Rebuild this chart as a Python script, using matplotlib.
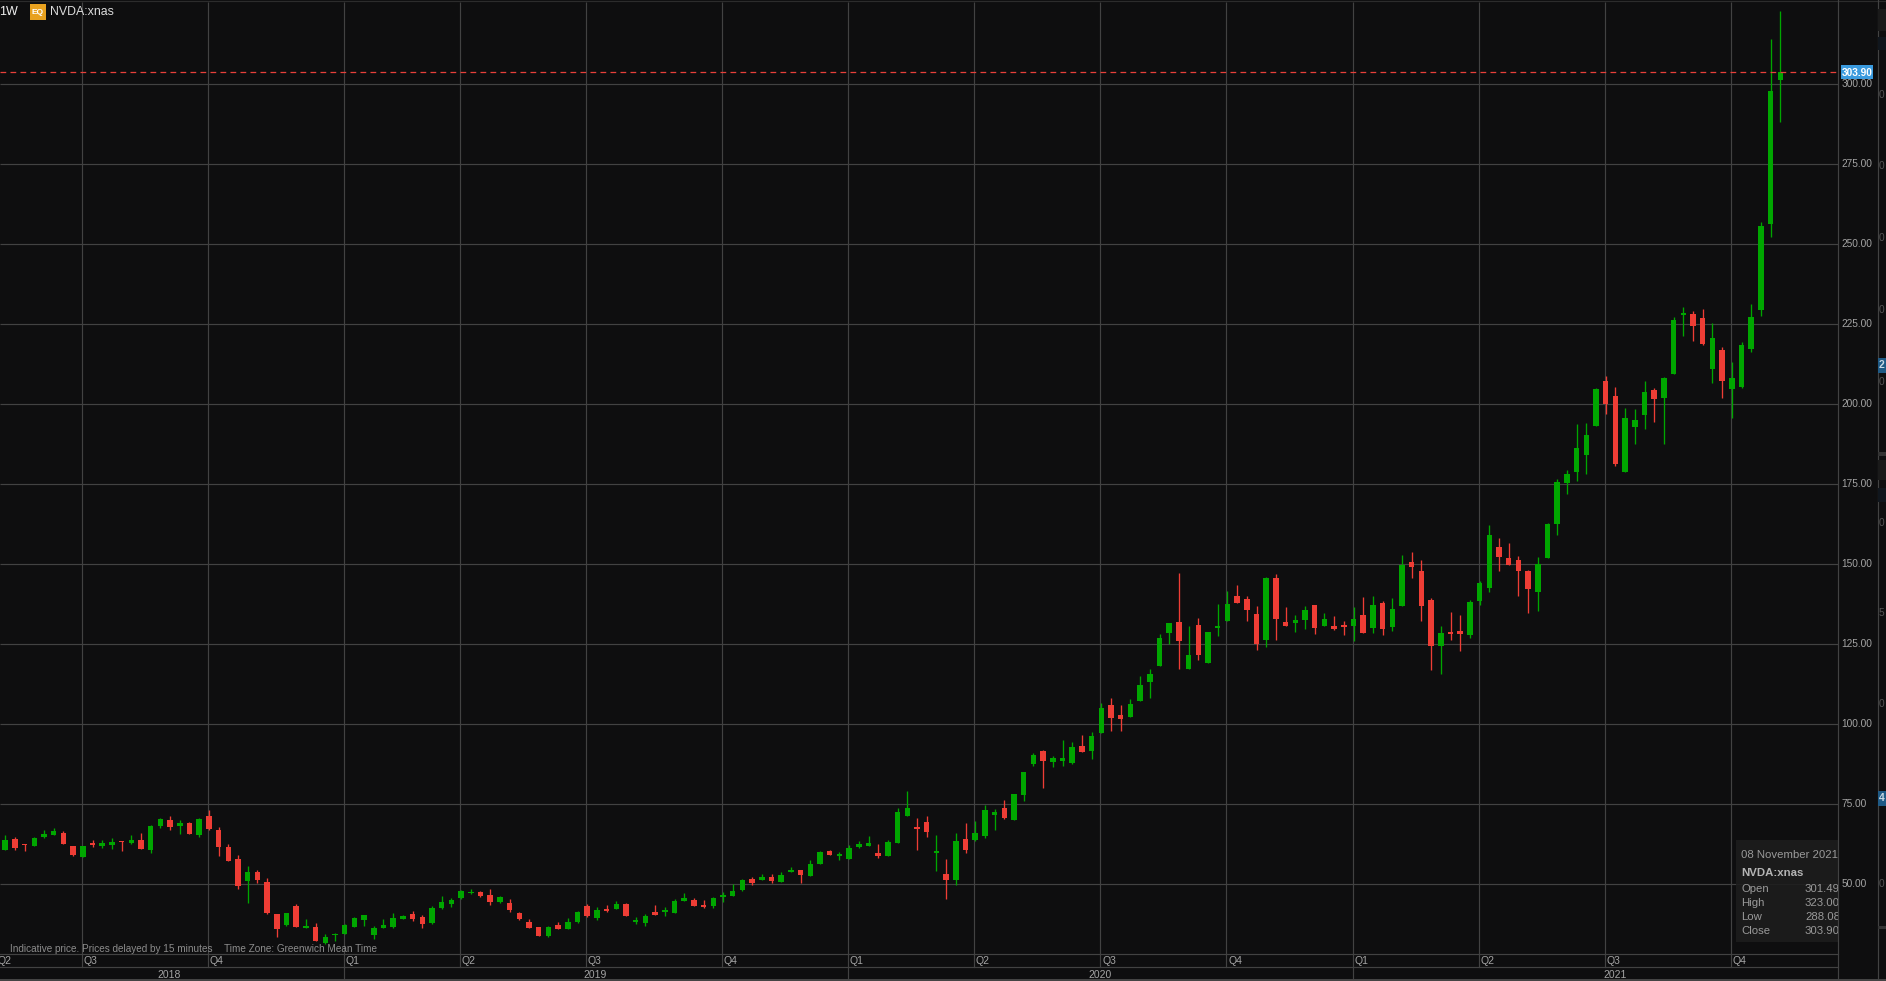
import matplotlib
matplotlib.use("Agg")
import matplotlib.pyplot as plt
from matplotlib.lines import Line2D
from matplotlib.patches import Rectangle
from matplotlib.transforms import Affine2D, blended_transform_factory

plt.rcParams['font.family'] = ['Liberation Sans', 'DejaVu Sans']

opens = [60.7,64.2,62.5,62.0,64.8,65.3,66.0,62.0,58.5,62.9,62.0,62.3,63.3,62.9,63.9,60.7,68.2,70.1,68.2,69.2,
         65.4,71.4,67.0,61.7,57.9,51.0,53.9,50.7,40.7,37.3,43.2,36.4,36.7,31.7,34.1,34.5,36.7,38.9,34.2,36.4,
         36.7,39.2,40.7,39.8,37.9,42.6,43.9,45.7,47.2,47.6,46.7,44.5,44.2,41.0,38.2,36.7,33.9,37.3,36.0,38.2,
         43.2,39.5,42.2,42.3,43.9,38.3,37.9,41.4,41.4,41.0,44.8,45.1,43.5,43.2,46.0,46.4,48.2,51.7,51.4,52.3,
         50.7,53.9,54.5,52.6,56.4,60.4,58.9,57.9,61.7,62.0,59.8,58.9,62.9,71.4,67.6,69.5,59.8,53.2,51.4,64.2,
         63.9,65.1,71.7,73.9,70.1,77.9,87.6,91.7,88.2,88.5,87.9,93.2,91.7,97.3,106.0,102.9,102.3,107.3,113.2,118.2,
         128.5,132.0,117.3,131.0,119.2,130.1,132.3,140.1,139.2,134.5,126.4,145.7,132.0,131.7,132.6,137.3,130.7,130.7,130.7,130.7,
         134.2,130.1,137.9,130.4,137.0,150.7,147.9,138.9,124.5,128.9,129.2,127.9,138.5,142.6,155.4,152.0,151.4,147.9,141.4,152.0,
         162.6,175.4,178.9,184.2,193.2,207.3,202.6,178.9,192.9,196.7,204.5,202.0,209.5,227.9,228.2,227.0,211.0,217.0,204.8,205.4,
         217.3,229.5,256.2,301.49]
highs = [65.4,64.7,62.5,64.8,67.0,67.5,66.7,62.0,62.0,63.9,63.9,64.5,63.5,65.4,66.0,68.5,70.7,71.4,70.1,69.5,
         70.7,73.2,67.9,62.6,59.2,55.7,54.5,52.0,40.7,41.0,43.9,39.2,37.9,34.5,34.8,37.6,39.8,40.4,37.0,39.2,
         41.0,40.4,41.7,40.4,43.2,46.4,45.7,48.2,48.5,47.9,48.5,46.4,45.4,41.4,39.2,36.7,37.0,38.2,39.5,41.7,
         43.9,42.9,43.5,44.8,44.2,39.8,40.7,43.5,42.9,45.4,47.3,45.7,45.1,46.0,47.6,50.1,51.7,52.3,53.2,53.2,
         53.9,55.4,54.5,57.6,60.4,60.7,60.1,62.3,63.5,65.1,62.6,63.9,73.9,79.2,70.7,71.4,65.4,57.9,66.0,69.2,
         69.8,74.8,73.5,76.4,78.2,85.1,91.0,92.0,90.1,95.1,94.5,96.7,97.6,106.7,108.2,106.0,107.9,115.1,117.3,128.2,
         131.7,147.3,130.7,133.2,128.9,137.6,141.7,143.5,140.1,137.0,146.0,147.0,136.7,134.2,137.0,137.3,134.8,133.9,132.3,136.7,
         139.8,140.1,138.5,139.5,152.9,153.9,151.4,139.5,130.7,135.1,134.2,138.9,144.8,162.3,158.2,156.7,152.6,148.2,152.3,162.9,
         176.7,179.5,193.9,194.2,205.1,208.9,205.4,198.9,198.5,207.3,205.1,208.5,227.3,230.4,229.2,229.8,225.4,217.9,213.2,219.5,
         231.4,257.0,314.2,323.0]
lows = [60.7,60.7,60.4,62.0,64.6,65.3,62.6,58.9,58.5,61.7,61.4,61.0,60.4,62.6,61.0,59.8,67.6,67.0,65.7,65.7,
        64.8,67.0,58.9,57.3,48.5,44.2,50.4,40.7,33.5,37.0,36.7,36.4,32.3,31.4,32.3,34.5,36.7,37.0,32.9,36.4,
        36.4,39.2,38.5,36.4,37.6,42.3,42.9,45.4,47.0,46.0,43.5,44.2,41.4,38.9,36.4,33.9,33.5,36.0,36.0,37.9,
        39.8,38.9,41.4,42.3,40.1,37.6,37.0,40.4,40.1,41.0,44.8,43.2,42.6,42.6,44.5,46.4,47.9,49.8,51.4,50.4,
        50.7,53.9,50.4,52.6,56.4,59.2,57.6,57.9,61.4,62.0,58.2,58.9,62.9,71.4,60.7,64.8,54.2,45.4,49.8,59.8,
        63.5,64.5,67.0,70.4,70.1,76.0,87.0,80.1,86.7,87.0,87.6,91.4,89.2,97.3,97.9,97.9,102.3,107.3,108.2,118.2,
        125.1,117.3,117.3,120.1,119.2,127.6,132.3,137.9,132.3,123.2,124.2,126.4,130.7,128.9,129.8,128.2,130.7,129.5,127.9,126.0,
        128.5,128.5,127.9,129.2,137.0,145.7,132.3,117.0,115.7,126.4,122.9,127.0,137.3,141.4,147.9,149.8,140.1,134.8,135.4,152.0,
        159.2,172.0,176.0,178.2,193.2,197.0,180.7,178.9,187.6,192.3,194.5,187.6,209.5,221.4,219.8,218.5,206.7,202.0,195.7,205.1,
        216.4,227.6,252.4,288.08]
closes = [63.9,61.4,62.2,64.5,65.7,66.7,62.6,59.2,62.0,62.2,62.9,63.2,63.1,63.9,61.0,68.2,70.4,67.9,69.2,65.7,
          70.4,67.3,61.7,57.3,49.5,53.9,51.4,41.0,36.0,41.0,36.7,37.0,32.3,33.5,34.3,37.3,39.5,40.4,36.4,37.3,
          39.5,40.1,39.2,37.6,42.6,44.5,45.1,47.9,47.6,46.4,44.5,46.0,42.0,39.2,36.4,33.9,36.7,36.0,38.2,41.4,
          40.1,42.0,41.8,43.9,40.1,38.9,40.1,40.4,42.0,44.8,45.7,43.2,42.9,45.7,46.7,47.9,51.4,50.4,52.3,51.0,
          52.9,54.5,52.9,56.4,60.1,59.2,59.2,61.4,62.6,62.9,58.9,63.2,72.6,73.9,67.3,66.4,60.4,51.4,63.5,60.7,
          66.0,73.2,72.6,70.7,78.2,85.1,90.4,88.5,89.5,89.5,92.9,91.4,96.4,105.1,102.0,101.7,106.4,112.3,115.7,127.0,
          131.7,126.0,121.7,121.7,128.9,130.7,137.6,137.9,135.7,125.1,145.7,132.9,130.7,132.6,135.7,130.1,132.9,129.8,130.4,132.9,
          128.5,137.3,129.8,136.0,149.8,149.2,137.0,124.5,128.5,128.2,128.2,138.2,144.2,159.2,152.3,149.8,147.9,142.3,150.1,162.6,
          175.7,178.2,186.4,190.4,204.8,200.1,181.4,195.7,195.1,203.9,201.7,208.2,226.4,228.5,224.5,218.9,220.7,207.3,208.2,218.5,
          227.3,255.7,297.9,303.9]

price_ticks = [50, 75, 100, 125, 150, 175, 200, 225, 250, 275, 300]
quarter_weeks = [8, 21, 35, 47, 60, 74, 87, 100, 113, 126, 139, 152, 165, 178]
quarter_labels = ['Q3', 'Q4', 'Q1', 'Q2', 'Q3', 'Q4', 'Q1', 'Q2', 'Q3', 'Q4', 'Q1', 'Q2', 'Q3', 'Q4']
year_weeks = [35, 87, 139]
year_labels = ['2018', '2019', '2020', '2021']
last_price = 303.90
tooltip_rows = [('Open', '301.49'), ('High', '323.00'), ('Low', '288.08'), ('Close', '303.90')]

W, H = 1886, 981
BG = '#0e0e0f'
GRID = '#424242'
GREEN = '#00a600'
RED = '#ee3d35'
TXT = '#a4a4a4'

fig = plt.figure(figsize=(W / 100, H / 100), dpi=100, facecolor=BG)
px = Affine2D().scale(1 / W, -1 / H).translate(0, 1) + fig.transFigure
ax = fig.add_axes([0, 1 - 954.3 / H, 1838.3 / W, (954.3 - 2) / H], facecolor=BG)
for s in ax.spines.values():
    s.set_visible(False)
ax.set_xticks([])
ax.set_yticks([])
STEP = 9.70
X0 = 5.2
ax.set_xlim(-X0 / STEP, (1838.3 - X0) / STEP)
ax.set_ylim(50 + (884.3 - 954.3) / 3.2, 50 + (884.3 - 2) / 3.2)

# grid
ax.hlines(price_ticks, *ax.get_xlim(), color=GRID, lw=0.85, zorder=1)
grid_x = [q - 0.1 for q in quarter_weeks]
ax.vlines(grid_x, *ax.get_ylim(), color=GRID, lw=0.85, zorder=1)

# candles
xs = list(range(len(closes)))
cols = [GREEN if c >= o else RED for o, c in zip(opens, closes)]
ax.vlines(xs, lows, highs, colors=cols, lw=0.95, zorder=3)
bottoms = [min(o, c) for o, c in zip(opens, closes)]
heights = [max(abs(c - o), 0.5) for o, c in zip(opens, closes)]
ax.bar(xs, heights, bottom=bottoms, width=5.5 / STEP, color=cols, linewidth=0, zorder=4)

# last price line
ax.axhline(last_price, color='#e8403a', lw=0.9, dashes=(4.6, 3.4), zorder=5)

def pline(xa, ya, xb, yb, color=GRID, lw=0.85, z=2):
    fig.add_artist(Line2D([xa, xb], [ya, yb], transform=px, color=color, lw=lw, zorder=z))

# axis chrome
pline(0, 954.3, 1838.3, 954.3)
pline(0, 967.3, 1838.3, 967.3)
pline(0, 0.8, 1886, 0.8, color='#2c2c2c')
pline(1838.3, 0, 1838.3, 979)
pline(1877.6, 0, 1877.6, 979)
fig.add_artist(Rectangle((0, 979), W, 2, transform=px, color='#444444', lw=0, zorder=3))

xpx = blended_transform_factory(ax.transData, px)
for q in grid_x:
    fig.add_artist(Line2D([q, q], [954.3, 967.3], transform=xpx, color=GRID, lw=0.85))
for y in year_weeks:
    fig.add_artist(Line2D([y - 0.1, y - 0.1], [967.3, 979], transform=xpx, color=GRID, lw=0.85))

fig.text(-3, 961.5, 'Q2', transform=px, color=TXT, fontsize=7.5, va='center', ha='left')
for q, lab in zip(grid_x, quarter_labels):
    fig.text(q + 0.18, 961.5, lab, transform=xpx, color=TXT, fontsize=7.5, va='center', ha='left')
for lab, xc in zip(year_labels, [168.7, 595, 1099.7, 1615]):
    fig.text(xc, 974.5, lab, transform=px, color=TXT, fontsize=7.5, va='center', ha='center')

# price labels
ytxt = blended_transform_factory(px, ax.transData)
for t in price_ticks:
    ax.text(1841.5, t + 0.2, f'{t:.2f}', transform=ytxt, color=TXT, fontsize=7.3,
            va='center', ha='left', clip_on=False)

# last-price flag
fig.add_artist(Rectangle((1841, 65), 32, 14.4, transform=px, color='#3a9ade', lw=0, zorder=6))
fig.text(1857, 72.8, f'{last_price:.2f}', transform=px, color='white', fontsize=7.3,
         va='center', ha='center', zorder=7, fontweight='bold')

# clipped neighbouring panel on the far right
for ch, yy in [('0', 94.7), ('0', 166), ('0', 238), ('0', 310), ('0', 381.7), ('0', 523),
               ('5', 613), ('0', 704), ('0', 884)]:
    fig.text(1879, yy, ch, transform=px, color='#555555', fontsize=7.3, va='center', ha='left')
for (ya, hh, col) in [(9, 22, '#1a1a1a'), (37, 13, '#10161d'), (452, 4, '#333333'), (460, 20, '#1a1a1a'),
                      (488, 14, '#10161d'), (926, 3, '#333333')]:
    fig.add_artist(Rectangle((1878, ya), 8, hh, transform=px, color=col, lw=0, zorder=2))
for ch, ya in [('2', 358), ('4', 791)]:
    fig.add_artist(Rectangle((1878, ya), 8, 14.5, transform=px, color='#1f5a85', lw=0, zorder=2))
    fig.text(1879, ya + 7, ch, transform=px, color='#c8d8e4', fontsize=7.5, va='center', ha='left',
             fontweight='bold', zorder=3)

# header
fig.text(-0.5, 12, '1W', transform=px, color='#f0f0f0', fontsize=9.0, va='center', ha='left')
fig.add_artist(Rectangle((30, 4), 16, 16, transform=px, color='#e8a11f', lw=0, zorder=3))
fig.text(38, 12.4, 'EQ', transform=px, color='white', fontsize=6.0, fontweight='bold', va='center', ha='center', zorder=4)
fig.text(50, 12, 'NVDA:xnas', transform=px, color='#dcdcdc', fontsize=8.9, va='center', ha='left')

# footnote
fig.text(10, 948.5, 'Indicative price. Prices delayed by 15 minutes', transform=px, color='#8c8c8c',
         fontsize=7.2, va='center', ha='left')
fig.text(224, 948.5, 'Time Zone: Greenwich Mean Time', transform=px, color='#8c8c8c',
         fontsize=7.2, va='center', ha='left')

# tooltip, cut by the price axis
ax.add_patch(Rectangle((1736, 840), 110, 102, transform=px, facecolor='#1d1d1d', alpha=0.88, lw=0, zorder=8))
def tip(x, y, s, color='#9a9a9a', **kw):
    t = ax.text(x, y, s, transform=px, color=color, fontsize=8.2, va='center', zorder=9, **kw)
    t.set_clip_on(True)
    t.set_clip_box(ax.bbox)
    return t
tip(1741, 854.5, '08 November 2021', ha='left')
tip(1741, 872.5, 'NVDA:xnas', color='#b4b4b4', ha='left', fontweight='bold')
for (name, val), yy in zip(tooltip_rows, [889, 903, 917, 931]):
    tip(1741, yy, name, ha='left')
    tip(1840, yy, val, ha='right')

fig.savefig('out.png', dpi=100, facecolor=BG)
